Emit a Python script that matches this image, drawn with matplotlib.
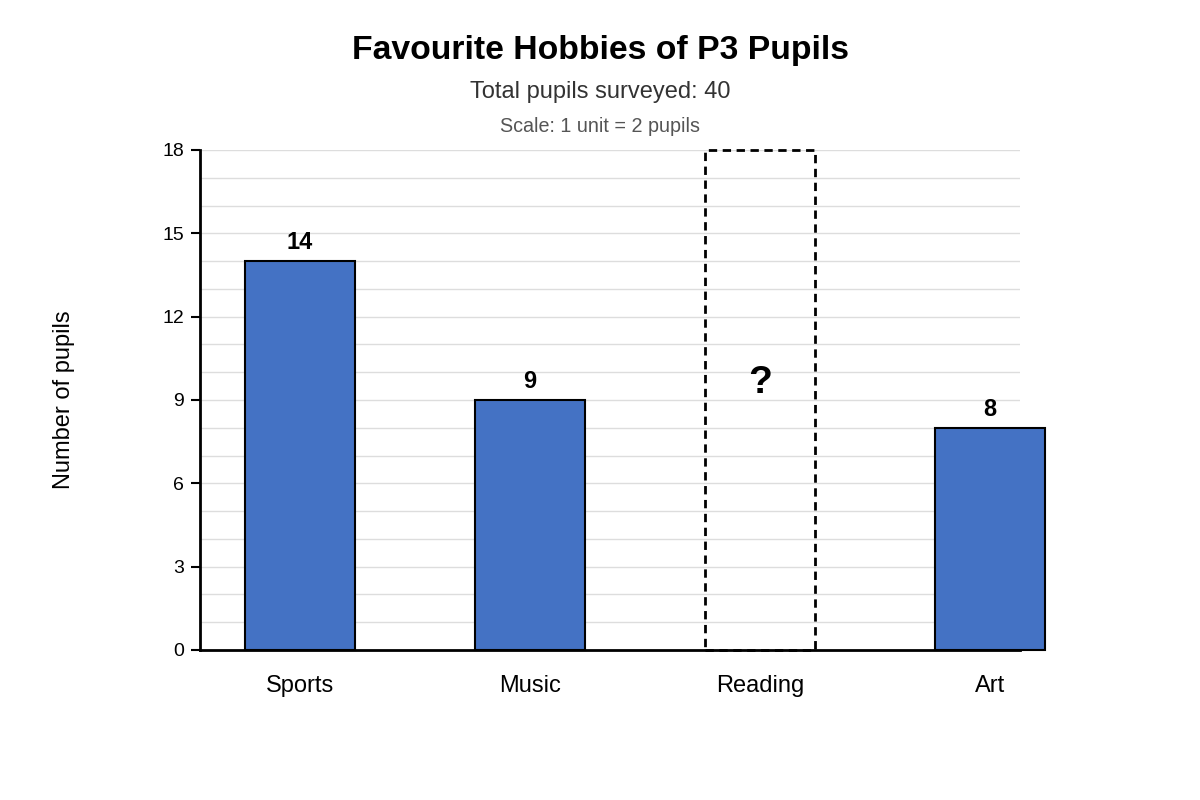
import matplotlib
matplotlib.use("Agg")
import matplotlib.pyplot as plt
import numpy as np

plt.rcParams['font.family'] = ['Liberation Sans', 'DejaVu Sans']

hobbies = ["Sports", "Music", "Reading", "Art"]
pupils = [14, 9, None, 8]
unknown_max = 18
y_ticks = [0, 3, 6, 9, 12, 15, 18]

fig = plt.figure(figsize=(12, 8), dpi=100)
ax = fig.add_axes([200/1200, 150/800, 820/1200, 500/800])

x = np.arange(len(hobbies))
width = 110/230

for i, v in enumerate(pupils):
    if v is None:
        # missing bar: dashed outline up to the top of the scale
        ax.bar(x[i], unknown_max, width=width, facecolor='none', edgecolor='black',
               linewidth=2, linestyle=(0, (3, 2)), zorder=3, clip_on=False)
        ax.text(x[i], 9.62, "?", ha='center', va='center', fontsize=28,
                fontweight='bold', zorder=4)
    else:
        ax.bar(x[i], v, width=width, color='#4472C4', edgecolor='black',
               linewidth=1.5, zorder=3, clip_on=False)
        ax.annotate(str(v), (x[i], v), xytext=(0, 5), textcoords='offset points',
                    ha='center', va='bottom', fontsize=17, fontweight='bold')

ax.set_xlim(-100/230, 720/230)
ax.set_ylim(0, 18)
ax.set_yticks(y_ticks)
ax.set_yticks(np.arange(0, 19, 1), minor=True)
ax.set_xticks(x)
ax.set_xticklabels(hobbies, fontsize=17)
ax.tick_params(axis='x', length=0, pad=18)
ax.tick_params(axis='y', which='major', labelsize=14, length=6.5, width=1.5, pad=5)
ax.tick_params(axis='y', which='minor', length=0)
ax.grid(axis='y', which='both', color='#dddddd', linewidth=1, zorder=0)
ax.set_axisbelow(True)

for s in ['top', 'right']:
    ax.spines[s].set_visible(False)
ax.spines['left'].set_linewidth(2)
ax.spines['bottom'].set_linewidth(2)

fig.text(0.0535, 0.5, "Number of pupils", rotation=90, ha='center', va='center', fontsize=17)
fig.text(0.5, 1 - 50/800, "Favourite Hobbies of P3 Pupils", ha='center', va='center',
         fontsize=24.3, fontweight='bold')
fig.text(0.5, 1 - 92/800, "Total pupils surveyed: 40", ha='center', va='center',
         fontsize=17, color='#333333')
fig.text(0.5, 1 - 127/800, "Scale: 1 unit = 2 pupils", ha='center', va='center',
         fontsize=14.2, color='#555555')

fig.savefig("out.png", dpi=100)
